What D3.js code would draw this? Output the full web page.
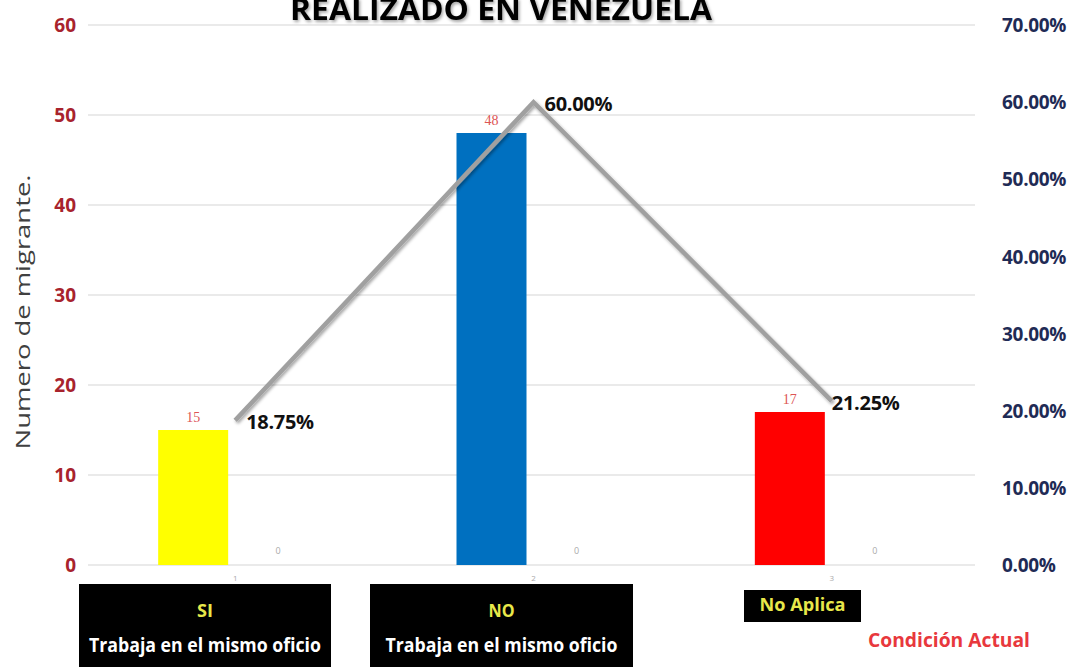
<!DOCTYPE html>
<html>
<head>
<meta charset="utf-8">
<script src="https://cdn.jsdelivr.net/npm/d3@7"></script>
<style>
  body { margin: 0; background: #fff; }
  svg { display: block; }
</style>
</head>
<body>
<div id="chart"></div>
<script>
// data
const categories = ["1", "2", "3"];
const counts = [15, 48, 17];
const secondSeries = [0, 0, 0];
const percents = [0.1875, 0.60, 0.2125];
const leftTicks = [0, 10, 20, 30, 40, 50, 60];
const rightTicks = [0, 0.1, 0.2, 0.3, 0.4, 0.5, 0.6, 0.7];
const barColors = ["#ffff00", "#0070c0", "#ff0000"];
const boxTop = ["SI", "NO", "No Aplica"];
const boxBottom = ["Trabaja en el mismo oficio", "Trabaja en el mismo oficio", ""];

const w = 1085, h = 667;
const plotLeft = 86, plotRight = 981, plotTop = 25, plotBottom = 565;
const font = "'Open Sans', sans-serif";

const svg = d3.select("#chart").append("svg")
  .attr("width", w)
  .attr("height", h);

const defs = svg.append("defs");
const f = defs.append("filter").attr("id", "shadow").attr("x", "-10%").attr("y", "-10%").attr("width", "130%").attr("height", "150%");
f.append("feDropShadow").attr("dx", 1.5).attr("dy", 2).attr("stdDeviation", 1.5).attr("flood-color", "#000").attr("flood-opacity", 0.35);

const x = d3.scaleBand().domain(categories).range([plotLeft, plotRight]);
const y = d3.scaleLinear().domain([0, 60]).range([plotBottom, plotTop]);
const y2 = d3.scaleLinear().domain([0, 0.7]).range([plotBottom, plotTop]);

// gridlines
svg.append("g")
  .selectAll("line")
  .data(leftTicks)
  .enter()
  .append("line")
  .attr("x1", plotLeft + 2)
  .attr("x2", plotRight - 6)
  .attr("y1", d => y(d))
  .attr("y2", d => y(d))
  .attr("stroke", "#e3e3e3")
  .attr("stroke-width", 1.5);

// left axis
const leftAxis = svg.append("g")
  .attr("transform", `translate(${plotLeft - 10},0)`)
  .call(d3.axisLeft(y).tickValues(leftTicks).tickSize(0).tickPadding(0));
leftAxis.select(".domain").remove();
leftAxis.selectAll("text")
  .attr("fill", "#a8232d")
  .attr("font-family", font)
  .attr("font-weight", "bold")
  .attr("font-size", 19)
  .attr("dy", "0.35em");

// right axis
const rightAxis = svg.append("g")
  .attr("transform", `translate(1002,0)`)
  .call(d3.axisRight(y2).tickValues(rightTicks).tickSize(0).tickPadding(0).tickFormat(d3.format(".2%")));
rightAxis.select(".domain").remove();
rightAxis.selectAll("text")
  .attr("fill", "#1f2b55")
  .attr("font-family", font)
  .attr("font-weight", "bold")
  .attr("font-size", 19)
  .attr("letter-spacing", -0.3)
  .attr("dy", "0.35em");

// y axis title
svg.append("text")
  .attr("transform", `translate(30,${312}) rotate(-90)`)
  .attr("text-anchor", "middle")
  .attr("fill", "#404040")
  .attr("font-family", font)
  .attr("font-size", 20)
  .attr("textLength", 275)
  .attr("lengthAdjust", "spacingAndGlyphs")
  .text("Numero de migrante.");

// category ticks
svg.append("g")
  .selectAll("text")
  .data(categories)
  .enter()
  .append("text")
  .attr("x", d => x(d) + x.bandwidth() / 2)
  .attr("y", 581)
  .attr("text-anchor", "middle")
  .attr("fill", "#aaa")
  .attr("font-family", font)
  .attr("font-size", 8)
  .text(d => d);

// bars
const bw = 70;
svg.append("g")
  .selectAll("rect")
  .data(counts)
  .enter()
  .append("rect")
  .attr("x", (d, i) => x(categories[i]) + x.bandwidth() / 2 - 42 - bw / 2)
  .attr("y", d => y(d))
  .attr("width", bw)
  .attr("height", d => plotBottom - y(d))
  .attr("fill", (d, i) => barColors[i]);

svg.append("g")
  .selectAll("text")
  .data(counts)
  .enter()
  .append("text")
  .attr("x", (d, i) => x(categories[i]) + x.bandwidth() / 2 - 42)
  .attr("y", d => y(d) - 8)
  .attr("text-anchor", "middle")
  .attr("fill", "#dd5555")
  .attr("font-family", "'Liberation Serif', serif")
  .attr("font-size", 14)
  .text(d => d);

// zero-valued second series labels
svg.append("g")
  .selectAll("text")
  .data(secondSeries)
  .enter()
  .append("text")
  .attr("x", (d, i) => x(categories[i]) + x.bandwidth() / 2 + 43)
  .attr("y", d => y(d) - 11)
  .attr("text-anchor", "middle")
  .attr("fill", "#aaa")
  .attr("font-family", font)
  .attr("font-size", 9)
  .text(d => d);

// percentage line
const line = d3.line()
  .x((d, i) => x(categories[i]) + x.bandwidth() / 2)
  .y(d => y2(d));

svg.append("path")
  .datum(percents)
  .attr("d", line)
  .attr("fill", "none")
  .attr("stroke", "#a0a0a0")
  .attr("stroke-width", 4.5)
  .attr("filter", "url(#shadow)");

svg.append("g")
  .selectAll("text")
  .data(percents)
  .enter()
  .append("text")
  .attr("x", (d, i) => x(categories[i]) + x.bandwidth() / 2 + (i === 2 ? 0 : 11))
  .attr("y", d => y2(d) + 9)
  .attr("fill", "#111")
  .attr("font-family", font)
  .attr("font-weight", "bold")
  .attr("font-size", 20)
  .attr("letter-spacing", -0.3)
  .text(d => d3.format(".2%")(d));

// title (cut at the top edge, as in the source)
svg.append("text")
  .attr("x", 501)
  .attr("y", 20)
  .attr("text-anchor", "middle")
  .attr("fill", "#000")
  .attr("font-family", font)
  .attr("font-weight", "bold")
  .attr("font-size", 31)
  .attr("textLength", 422)
  .attr("lengthAdjust", "spacingAndGlyphs")
  .attr("filter", "url(#shadow)")
  .text("REALIZADO EN VENEZUELA");

// category boxes
const boxes = [
  { x: 79, y: 584, w: 252, h: 90 },
  { x: 370, y: 584, w: 263, h: 90 },
  { x: 744, y: 590, w: 117, h: 32 }
];
const topLen = [16, 26, 86];
const bg = svg.append("g");
boxes.forEach((b, i) => {
  bg.append("rect")
    .attr("x", b.x).attr("y", b.y).attr("width", b.w).attr("height", b.h)
    .attr("fill", "#000");
  bg.append("text")
    .attr("x", b.x + b.w / 2)
    .attr("y", i === 2 ? b.y + 21 : b.y + 33)
    .attr("text-anchor", "middle")
    .attr("fill", "#e8e84a")
    .attr("font-family", font)
    .attr("font-weight", "bold")
    .attr("font-size", 18)
    .attr("textLength", topLen[i])
    .attr("lengthAdjust", "spacingAndGlyphs")
    .text(boxTop[i]);
  if (boxBottom[i]) {
    bg.append("text")
      .attr("x", b.x + b.w / 2)
      .attr("y", b.y + 68)
      .attr("text-anchor", "middle")
      .attr("fill", "#fff")
      .attr("font-family", font)
      .attr("font-weight", "bold")
      .attr("font-size", 20)
      .attr("textLength", 232)
      .attr("lengthAdjust", "spacingAndGlyphs")
      .text(boxBottom[i]);
  }
});

svg.append("text")
  .attr("x", 949)
  .attr("y", 647)
  .attr("text-anchor", "middle")
  .attr("fill", "#e8383d")
  .attr("font-family", font)
  .attr("font-weight", "bold")
  .attr("font-size", 20)
  .attr("textLength", 162)
  .attr("lengthAdjust", "spacingAndGlyphs")
  .text("Condición Actual");
</script>
</body>
</html>
